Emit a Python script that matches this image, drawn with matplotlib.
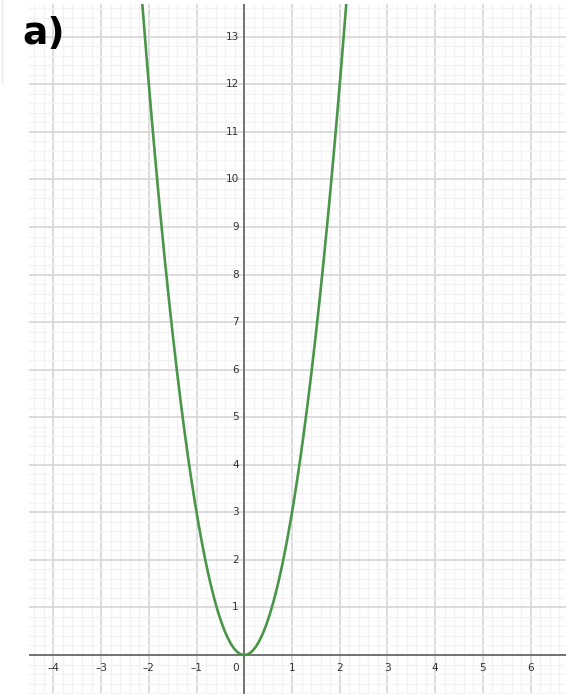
import numpy as np
import matplotlib
matplotlib.use("Agg")
import matplotlib.pyplot as plt
from matplotlib.ticker import MultipleLocator

# ---- data ----
panel_label = "a)"
poly_coeffs = [3, 0, 0]          # y = 3x^2
x_tick_values = [-4, -3, -2, -1, 1, 2, 3, 4, 5, 6]
y_tick_values = [1, 2, 3, 4, 5, 6, 7, 8, 9, 10, 11, 12, 13]
x_limits = (-4.51, 6.74)
y_limits = (-0.82, 13.69)

W, H = 566, 694
fig = plt.figure(figsize=(W / 100, H / 100), dpi=100)
fig.patch.set_facecolor("white")

left = 29 / W
top = (H - 4) / H
ax = fig.add_axes([left, 0, 1 - left, top])
ax.set_xlim(*x_limits)
ax.set_ylim(*y_limits)
for s in ax.spines.values():
    s.set_visible(False)
ax.set_xticks([])
ax.set_yticks([])

# grid
ax.xaxis.set_major_locator(MultipleLocator(1))
ax.yaxis.set_major_locator(MultipleLocator(1))
ax.xaxis.set_minor_locator(MultipleLocator(0.2))
ax.yaxis.set_minor_locator(MultipleLocator(0.2))
ax.grid(which="minor", color="#f2f2f2", linewidth=0.9, zorder=0)
ax.grid(which="major", color="#d9d9d9", linewidth=1.3, zorder=0)
ax.tick_params(which="both", length=0, labelbottom=False, labelleft=False)

# axes lines
ax.axhline(0, color="#6b6b6b", linewidth=1.3, zorder=2)
ax.axvline(0, color="#6b6b6b", linewidth=1.3, zorder=2)

# curve
xs = np.linspace(-2.4, 2.4, 800)
ys = np.polyval(poly_coeffs, xs)
ax.plot(xs, ys, color="#4a9649", linewidth=1.9, zorder=3, solid_capstyle="round")

# tick labels
lab_kw = dict(fontsize=7.6, color="#333333", family="DejaVu Sans", zorder=4)
for v in x_tick_values:
    txt = f"\u2013{abs(v)}" if v < 0 else f"{v}"
    ax.annotate(txt, (v, 0), xytext=(0, -9), textcoords="offset points",
                ha="center", va="center", **lab_kw)
ax.annotate("0", (0, 0), xytext=(-6, -9), textcoords="offset points",
            ha="center", va="center", **lab_kw)
for v in y_tick_values:
    ax.annotate(f"{v}", (0, v), xytext=(-4, 0), textcoords="offset points",
                ha="right", va="center", **lab_kw)

# panel label
fig.text(22 / W, 1 - 34 / H, panel_label, fontsize=27, fontweight="bold",
         color="black", ha="left", va="center", family="DejaVu Sans")

# faint left border line
fig.add_artist(plt.Line2D([2 / W, 2 / W], [1, 1 - 82 / H], color="#e6e6e6",
                          linewidth=1.0, transform=fig.transFigure))

fig.savefig("out.png", dpi=100)
